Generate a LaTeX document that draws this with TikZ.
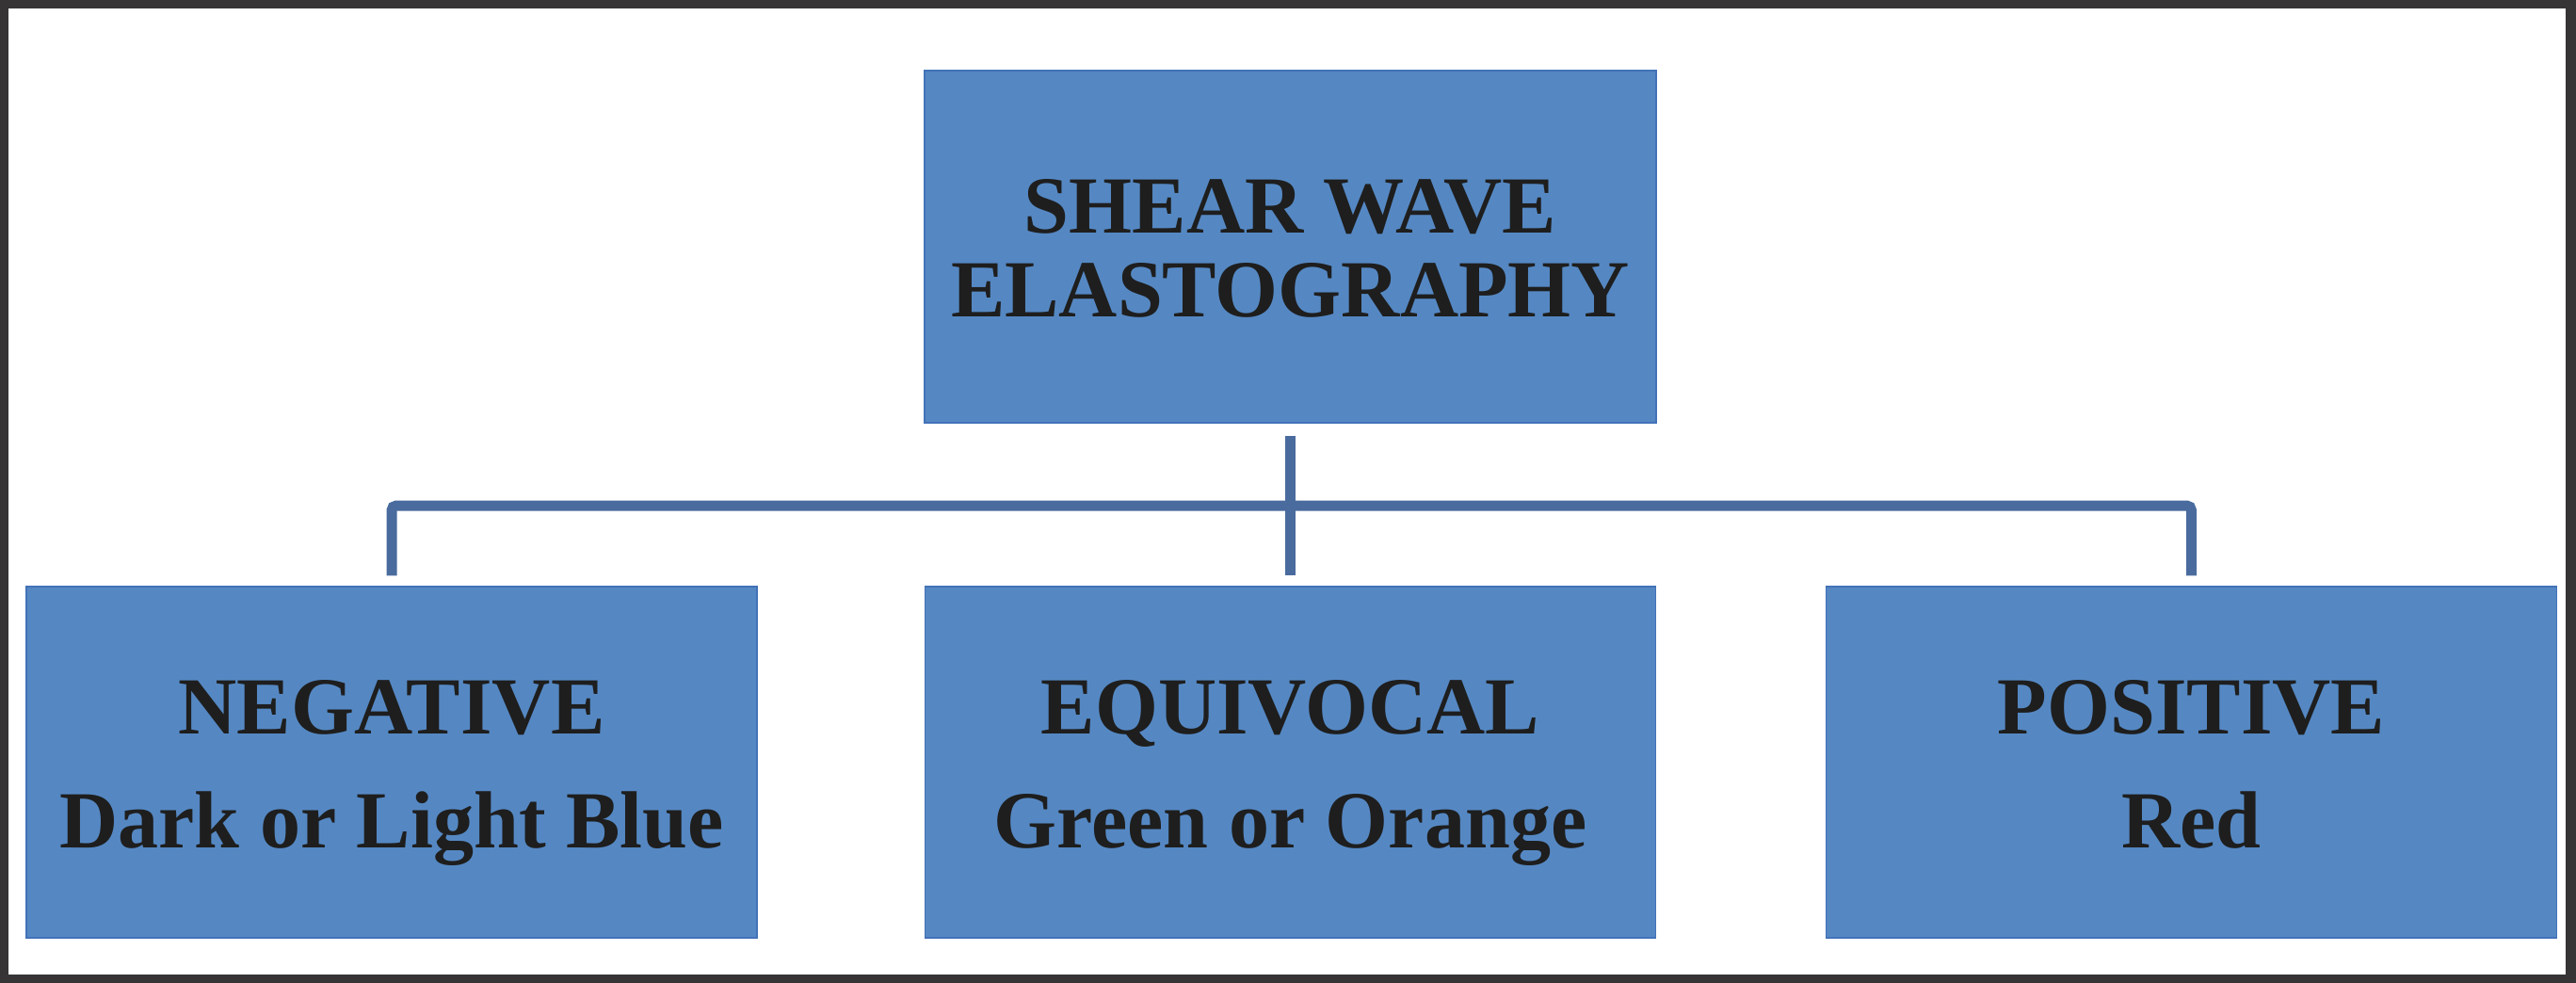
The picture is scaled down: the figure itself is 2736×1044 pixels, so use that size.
\documentclass[tikz,border=0pt]{standalone}
\usepackage{fontspec}
\setmainfont{Liberation Serif}
\definecolor{boxfill}{RGB}{85,136,195}
\definecolor{boxedge}{RGB}{66,114,184}
\definecolor{connclr}{RGB}{74,107,158}
\definecolor{frameclr}{RGB}{54,52,53}
\definecolor{txtclr}{RGB}{30,30,30}
\begin{document}
\begin{tikzpicture}[x=0.1mm,y=-0.1mm]
\tikzset{
  boxnode/.style={draw=boxedge, line width=0.15mm, fill=boxfill, inner sep=0pt,
    align=center, text=txtclr, font=\bfseries\fontsize{24.5}{34.7}\selectfont,
    minimum width=77.6mm, minimum height=37.3mm},
  topnode/.style={boxnode, font=\bfseries\fontsize{24.5}{25.6}\selectfont,
    minimum width=77.7mm, minimum height=37.4mm},
  conn/.style={draw=connclr, line width=1.1mm, rounded corners=0.5mm}
}
\useasboundingbox (0,0) rectangle (2736,1044);
\fill[frameclr] (0,0) rectangle (2736,1044);
\fill[white] (9,9) rectangle (2725,1035);

\node[topnode] (top) at (1370.5,262)
  {\rule{0pt}{18.07pt}SHEAR WAVE\\ELASTOGRAPHY\rule[-1pt]{0pt}{1pt}};
\node[boxnode] (neg) at (416,809.5)
  {\rule{0pt}{23.35pt}NEGATIVE\\Dark or Light Blue\rule[-6pt]{0pt}{6pt}};
\node[boxnode] (equ) at (1370.5,809.5)
  {\rule{0pt}{23.35pt}EQUIVOCAL\\Green or Orange\rule[-6pt]{0pt}{6pt}};
\node[boxnode] (pos) at (2327.5,809.5)
  {\rule{0pt}{23.35pt}POSITIVE\\Red\rule[-6pt]{0pt}{6pt}};

\coordinate (bar) at (1370.5,537);
\draw[conn] ([yshift=-1.3mm]top.south) -- ([yshift=1.1mm]equ.north);
\draw[conn] ([yshift=1.1mm]neg.north) -- (neg.north |- bar) -- (pos.north |- bar) -- ([yshift=1.1mm]pos.north);
\end{tikzpicture}
\end{document}
